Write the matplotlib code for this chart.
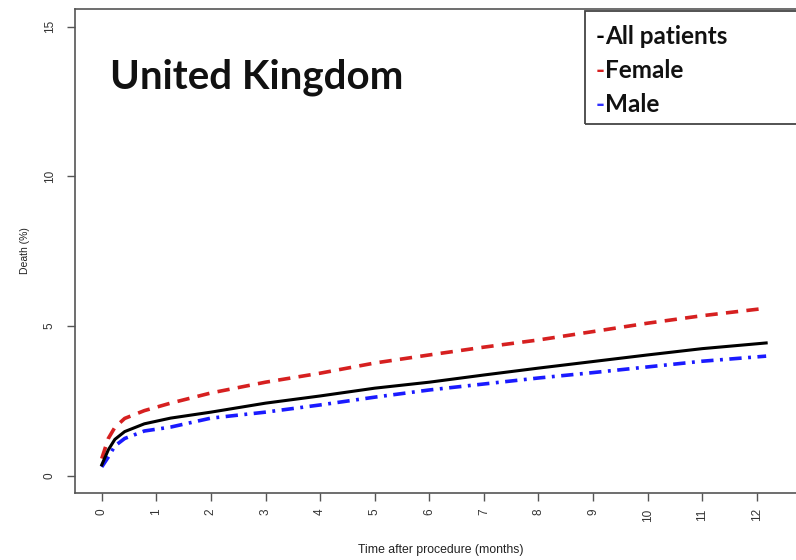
import matplotlib
matplotlib.use("Agg")
import matplotlib.pyplot as plt
from matplotlib.patches import Rectangle

months = [0, 0.12, 0.24, 0.42, 0.78, 1.26, 2, 3, 4, 5, 6, 7, 8, 9, 10, 11, 12.17]
all_patients = [0.37, 0.87, 1.22, 1.48, 1.74, 1.93, 2.13, 2.43, 2.67, 2.93, 3.13, 3.37, 3.60, 3.82, 4.04, 4.25, 4.44]
female = [0.58, 1.25, 1.62, 1.92, 2.18, 2.43, 2.77, 3.13, 3.43, 3.77, 4.04, 4.30, 4.54, 4.82, 5.10, 5.35, 5.60]
male = [0.30, 0.63, 1.00, 1.25, 1.50, 1.63, 1.93, 2.13, 2.37, 2.63, 2.87, 3.07, 3.27, 3.45, 3.64, 3.83, 4.00]

x_ticks = list(range(0, 13))
y_ticks = [0, 5, 10, 15]
title_text = "United Kingdom"
legend_labels = ["All patients", "Female", "Male"]
legend_colors = ["black", "#d62020", "#3030ff"]

fig = plt.figure(figsize=(7.96, 5.60), dpi=100)
W, H = 796, 560
left, right, top, bottom = 75, 806, 9, 493
ax = fig.add_axes([left / W, 1 - bottom / H, (right - left) / W, (bottom - top) / H])

ax.plot(months, female, color="#d62020", lw=2.6, dashes=(3.4, 2.3), solid_capstyle="butt")
ax.plot(months, male, color="#1a1aff", lw=2.6, dashes=(3.4, 1.8, 0.8, 1.8))
ax.plot(months, all_patients, color="black", lw=2.2)

ax.set_xlim(-0.49, 12.9)
ax.set_ylim(-0.57, 15.59)
ax.set_xticks(x_ticks)
ax.set_yticks(y_ticks)
ax.set_xticklabels([str(t) for t in x_ticks], rotation=90, family="Liberation Sans", fontsize=8.5, color="#333333")
ax.set_yticklabels([str(t) for t in y_ticks], rotation=90, va="center", family="Liberation Sans", fontsize=8.5, color="#333333")
ax.tick_params(axis="both", direction="out", length=6, width=1, color="#555555")
ax.tick_params(axis="x", pad=5)
ax.tick_params(axis="y", pad=8)
for s in ["left", "bottom", "top"]:
    ax.spines[s].set_color("#555555")
    ax.spines[s].set_linewidth(1.2)
ax.spines["right"].set_visible(False)

ax.set_xlabel("Time after procedure (months)", family="Liberation Sans", fontsize=8.8, color="#222222", labelpad=16)
ax.set_ylabel("Death (%)", family="Liberation Sans", fontsize=7.5, color="#222222", labelpad=10)

fig.text(110 / W, 1 - 77 / H, title_text, family="Lato", weight="bold", fontsize=29, va="center", ha="left", color="#111111")

# legend box
fig.patches.append(Rectangle((585 / W, 1 - 124 / H), (820 - 585) / W, (124 - 11) / H,
                             transform=fig.transFigure, fill=False, edgecolor="#444444", lw=1.3))
ys = [37, 71, 104]
for lab, col, yy in zip(legend_labels, legend_colors, ys):
    t = fig.text(596 / W, 1 - yy / H, "-", family="Lato", weight="bold", fontsize=17.5, color=col, va="center", ha="left")
    ax.annotate(lab, xy=(1, 0), xycoords=t, xytext=(0, 0), textcoords="offset points",
                family="Lato", weight="bold", fontsize=17.5, color="#111111", va="bottom", ha="left",
                annotation_clip=False)

fig.savefig("out.png", dpi=100)
